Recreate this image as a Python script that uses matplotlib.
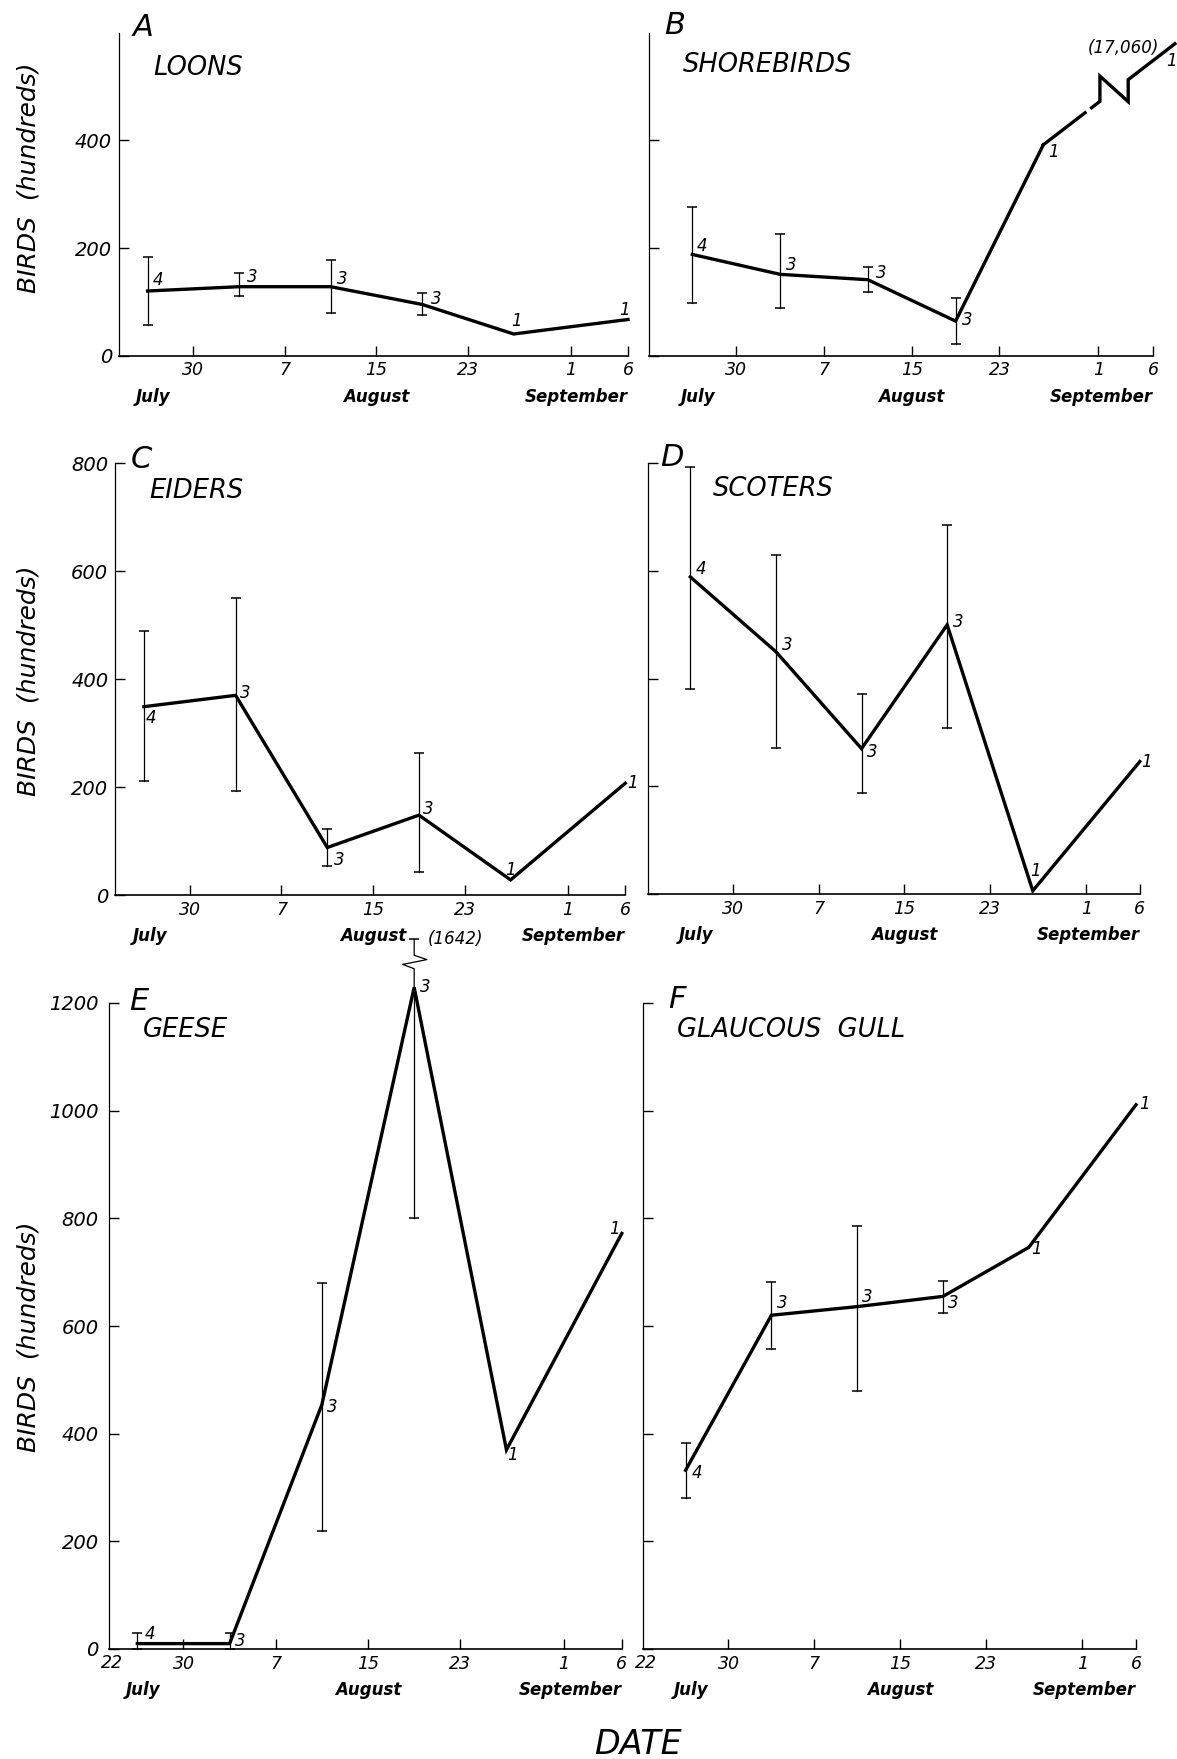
import matplotlib
matplotlib.use("Agg")
import matplotlib.pyplot as plt

plt.rcParams['font.family'] = ['DejaVu Sans']
plt.rcParams['font.style'] = 'italic'

# survey dates as day numbers counted from 1 July (1 Aug = 32, 1 Sep = 63)
dates = [26, 34, 42, 50, 58, 68]
n_surveys = ['4', '3', '3', '3', '1', '1']
tick_days = [30, 38, 46, 54, 63, 68]
tick_labels = ['30', '7', '15', '23', '1', '6']
months = ['July', 'August', 'September']
month_days = [26.5, 46, 68]

# birds (hundreds): means, then low / high end of the bars for the first four dates
loons = [120, 128, 128, 95, 40, 67]
loons_lo = [57, 110, 79, 75]
loons_hi = [184, 153, 178, 116]

shorebirds = [188, 151, 141, 64, 392, 17060]
shorebirds_lo = [98, 89, 119, 21]
shorebirds_hi = [277, 226, 164, 107]

eiders = [349, 370, 88, 148, 28, 207]
eiders_lo = [211, 193, 54, 43]
eiders_hi = [490, 550, 123, 263]

scoters = [589, 450, 270, 500, 6, 246]
scoters_lo = [380, 272, 187, 308]
scoters_hi = [793, 629, 371, 686]

geese = [10, 10, 454, 1229, 370, 772]
geese_lo = [0, 0, 219, 800]
geese_hi = [29, 29, 680, 1642]

gull = [332, 620, 636, 655, 746, 1011]
gull_lo = [280, 557, 479, 625]
gull_hi = [382, 682, 785, 684]

# where the off-scale values are drawn after the break
shore_drawn = (70, 580)
geese_cap_drawn = 1318

W, H = 1177, 1759
fig = plt.figure(figsize=(W / 100, H / 100), dpi=100)
LW = 2.4


def panel(l, t, r, b, xlim, ymax, yticks, show_ylabels, origin22=False, ypad=5):
    ax = fig.add_axes([l / W, 1 - b / H, (r - l) / W, (b - t) / H])
    ax.set_xlim(*xlim)
    ax.set_ylim(0, ymax)
    ax.spines['top'].set_visible(False)
    ax.spines['right'].set_visible(False)
    ax.spines['left'].set_linewidth(0.9)
    ax.spines['bottom'].set_linewidth(1.2)
    ax.set_xticks(tick_days)
    ax.set_xticklabels(tick_labels, fontsize=12.5)
    ax.set_yticks(yticks)
    if show_ylabels:
        ax.set_yticklabels([str(v) for v in yticks], fontsize=14)
    else:
        ax.set_yticklabels([])
    ax.tick_params(direction='in', length=7, width=1)
    ax.tick_params(axis='x', pad=4)
    ax.tick_params(axis='y', pad=ypad)
    ax.patch.set_alpha(0)
    for m, d in zip(months, month_days):
        ha = 'right' if m == 'September' else 'center'
        ax.annotate(m, xy=(d, 0), xycoords=('data', 'axes fraction'),
                    xytext=(0, -41), textcoords='offset pixels',
                    ha=ha, va='center', fontsize=12, fontweight='bold',
                    annotation_clip=False)
    if origin22:
        ax.annotate('22', xy=(0, 0), xycoords='axes fraction', xytext=(3, -14),
                    textcoords='offset pixels', ha='center', va='center',
                    fontsize=12.5)
    return ax


def whisker(ax, x, lo, hi):
    ax.plot([x, x], [lo, hi], color='black', lw=0.9, marker='_', ms=7,
            mew=1.1, clip_on=False)


def series(ax, y, lo, hi, offsets, npts=6, nbars=4):
    ax.plot(dates[:npts], y[:npts], color='black', lw=LW, clip_on=False,
            solid_joinstyle='miter')
    for i in range(nbars):
        whisker(ax, dates[i], lo[i], hi[i])
    for i in range(npts):
        ax.annotate(n_surveys[i], xy=(dates[i], y[i]), xytext=offsets[i],
                    textcoords='offset pixels', ha='center', va='center',
                    fontsize=12, annotation_clip=False)


# A loons
axA = panel(119, 33, 628, 355.5, (23.5, 68), 600, [0, 200, 400], True)
series(axA, loons, loons_lo, loons_hi,
       [(10, 11), (13, 10), (12, 8), (14, 5), (3, 13), (-3, 9)])

# B shorebirds, last value off the scale
axB = panel(648.5, 33, 1153, 355.5, (22, 68), 600, [0, 200, 400], False)
series(axB, shorebirds, shorebirds_lo, shorebirds_hi,
       [(10, 8), (11, 9), (13, 7), (12, 1), (10, -7)], npts=5)
x0, y0 = dates[4], shorebirds[4]
x1, y1 = shore_drawn


def along(t, dy=0):
    return x0 + t * (x1 - x0), y0 + t * (y1 - y0) + dy


pA = [along(0), along(0.317)]
pB = [along(0.367), along(0.43), along(0.43, 47), along(0.645, -41),
      along(0.645), along(1)]
for seg in (pA, pB):
    axB.plot([p[0] for p in seg], [p[1] for p in seg], color='black', lw=LW,
             clip_on=False, solid_joinstyle='miter')
axB.annotate('1', xy=shore_drawn, xytext=(-3, -17), textcoords='offset pixels',
             ha='center', va='center', fontsize=12, annotation_clip=False)
axB.annotate('(%s)' % format(shorebirds[5], ','), xy=shore_drawn, xytext=(-52, -4),
             textcoords='offset pixels', ha='center', va='center', fontsize=12,
             annotation_clip=False)

# C eiders
axC = panel(115.3, 463.3, 625.2, 895, (23.5, 68), 800, [0, 200, 400, 600, 800], True)
series(axC, eiders, eiders_lo, eiders_hi,
       [(7, -11), (10, 2), (12, -12), (9, 6), (0, 10), (7, 0)])

# D scoters
axD = panel(647.5, 463.3, 1139.8, 894, (22, 68), 800, [0, 200, 400, 600, 800], False)
series(axD, scoters, scoters_lo, scoters_hi,
       [(11, 8), (11, 7), (11, -3), (11, 3), (3, 20), (7, 0)])

# E geese, upper bar of 19 Aug broken
axE = panel(108.5, 1003, 621.8, 1649, (23.5, 68), 1200,
            [0, 200, 400, 600, 800, 1000, 1200], True, origin22=True, ypad=7)
series(axE, geese, geese_lo, geese_hi,
       [(13, 10), (11, 3), (10, -2), (11, 0), (6, -5), (-7, 4)], nbars=3)
xg, yg = dates[3], geese[3]
axE.plot([xg, xg], [geese_lo[3], yg], color='black', lw=0.9, marker='_', ms=7,
         mew=1.1, markevery=[0], clip_on=False)
span = geese_cap_drawn - yg
zig_x = [xg, xg, xg - 1.0, xg + 1.1, xg, xg]
zig_y = [yg, yg + 0.39 * span, yg + 0.48 * span, yg + 0.58 * span,
         yg + 0.67 * span, geese_cap_drawn]
axE.plot(zig_x, zig_y, color='black', lw=0.9, clip_on=False)
axE.plot([xg], [geese_cap_drawn], color='black', marker='_', ms=7, mew=1.1,
         clip_on=False)
axE.annotate('(%d)' % geese_hi[3], xy=(xg, geese_cap_drawn), xytext=(41, 0),
             textcoords='offset pixels', ha='center', va='center', fontsize=12,
             annotation_clip=False)

# F glaucous gull
axF = panel(642.7, 1003, 1136, 1649, (22, 68), 1200,
            [0, 200, 400, 600, 800, 1000, 1200], False, origin22=True)
series(axF, gull, gull_lo, gull_hi,
       [(11, -3), (11, 12), (10, 10), (10, -7), (8, -2), (8, 1)])


def ftext(x, y, s, **kw):
    fig.text(x / W, 1 - y / H, s, **kw)


letters = ['A', 'B', 'C', 'D', 'E', 'F']
letter_xy = [(143, 27), (675, 26), (141, 460), (671.5, 457), (139, 1002), (677, 999)]
for s, (x, y) in zip(letters, letter_xy):
    ftext(x, y, s, fontsize=22, ha='center', va='center')

species = ['LOONS', 'SHOREBIRDS', 'EIDERS', 'SCOTERS', 'GEESE', 'GLAUCOUS  GULL']
species_xy = [(153, 68), (683, 65), (149, 491), (713, 489), (143, 1030), (677, 1030)]
for s, (x, y) in zip(species, species_xy):
    ftext(x, y, s, fontsize=18.5, ha='left', va='center')

for yc in (178, 681, 1337):
    ftext(29, yc, 'BIRDS  (hundreds)', fontsize=18, rotation=90,
          ha='center', va='center')

ftext(638, 1744, 'DATE', fontsize=24, ha='center', va='center')

fig.savefig('out.png', dpi=100)
